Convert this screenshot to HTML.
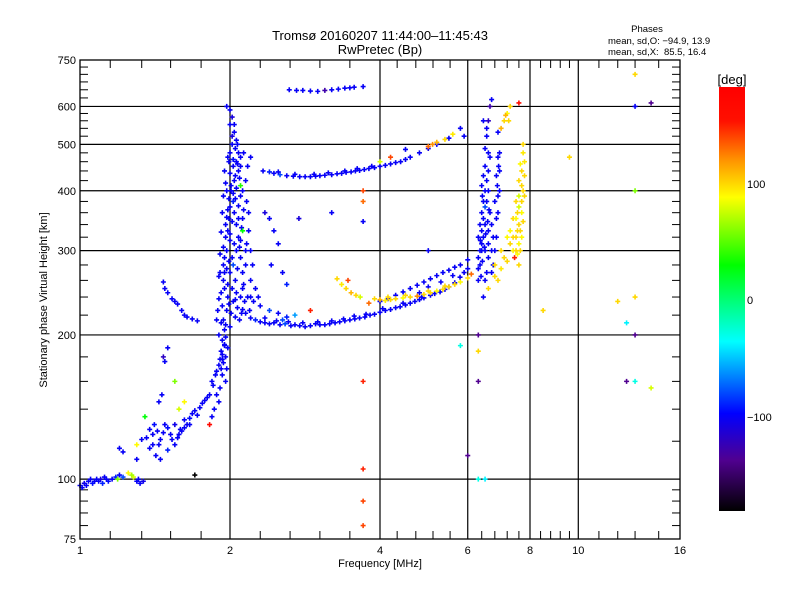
<!DOCTYPE html>
<html><head><meta charset="utf-8"><title>Ionogram</title>
<style>
html,body{margin:0;padding:0;background:#fff;}
svg{display:block;font-family:"Liberation Sans",sans-serif;}
</style></head>
<body>
<svg id="chart" width="800" height="600" viewBox="0 0 800 600" xmlns="http://www.w3.org/2000/svg">
<rect x="0" y="0" width="800" height="600" fill="#fff"/>
<text x="380" y="40" font-size="13" text-anchor="middle">Tromsø 20160207 11:44:00–11:45:43</text>
<text x="380" y="54" font-size="13" text-anchor="middle">RwPretec (Bp)</text>
<text x="647" y="32" font-size="9.5" text-anchor="middle">Phases</text>
<text x="608" y="44" font-size="9.5">mean, sd,O: −94.9, 13.9</text>
<text x="608" y="55" font-size="9.5" xml:space="preserve">mean, sd,X:  85.5, 16.4</text>
<g id="grid"></g>
<g id="ticks"></g>
<g id="marks"></g>
<rect x="80" y="60" width="600" height="479" fill="none" stroke="#000" stroke-width="1.3"/>
<g id="xlabels" font-size="11" text-anchor="middle"></g>
<g id="ylabels" font-size="11" text-anchor="end"></g>
<text x="380" y="567" font-size="11" text-anchor="middle">Frequency [MHz]</text>
<text transform="translate(47,300) rotate(-90)" font-size="11" text-anchor="middle">Stationary phase Virtual Height [km]</text>
<defs>
<linearGradient id="cb" x1="0" y1="0" x2="0" y2="1">
<stop offset="0" stop-color="#ff0000"/>
<stop offset="0.08" stop-color="#ff1000"/>
<stop offset="0.17" stop-color="#ff9000"/>
<stop offset="0.26" stop-color="#ffff00"/>
<stop offset="0.42" stop-color="#00ff00"/>
<stop offset="0.60" stop-color="#00ffff"/>
<stop offset="0.77" stop-color="#0000ff"/>
<stop offset="0.88" stop-color="#500090"/>
<stop offset="1" stop-color="#000000"/>
</linearGradient>
</defs>
<rect x="719" y="87" width="26" height="424" fill="url(#cb)"/>
<text x="732" y="84" font-size="13" text-anchor="middle">[deg]</text>
<text x="747" y="188" font-size="11">100</text>
<text x="747" y="304" font-size="11">0</text>
<text x="747" y="421" font-size="11">−100</text>
</svg>
<script>
// ---- axis data ----
const xMajorTicks = [1, 2, 4, 6, 8, 10, 16];
const xGridLines = [2, 4, 6, 8, 10];
const xMinorTicks = [1.15, 1.33, 1.52, 1.75, 2.3, 2.64, 3.03, 3.48, 4.33, 4.72, 5.11, 5.53, 6.4, 6.8, 7.2, 7.6, 8.4, 8.8, 9.2, 9.6, 11, 12, 13, 14.5];
const yMajorTicks = [75, 100, 200, 300, 400, 500, 600, 750];
const yGridLines = [100, 200, 300, 400, 500, 600];
const yMinorTicks = [80, 85, 90, 95, 120, 140, 160, 180, 220, 240, 260, 280, 320, 340, 360, 380, 420, 440, 460, 480, 520, 540, 560, 580, 625, 650, 675, 700, 725];

// ---- echo data: [frequency MHz, virtual height km, phase deg] ----
const traceLowE = [[1.0,97,-100],[1.02,98,-105],[1.04,99,-100],[1.06,98,-95],[1.08,100,-100],[1.1,100,-110],[1.12,101,-100],[1.14,99,-95],[1.16,100,-100],[1.18,101,-90],[1.2,102,-100],[1.22,101,-80],[1.25,103,90],[1.28,101,80],[1.3,99,-100],[1.32,98,-100],[1.34,99,-105],[1.03,97,-100],[1.07,99,-100],[1.11,98,-90],[1.19,100,60],[1.27,102,70],[1.01,96,-100],[1.05,100,-100],[1.09,99,-100],[1.13,100,-100],[1.31,100,-100]];
const traceEs = [[1.33,121,-100],[1.38,127,-100],[1.41,130,-95],[1.45,121,-100],[1.48,130,-100],[1.52,124,-100],[1.55,130,-105],[1.59,127,-100],[1.62,133,-100],[1.66,134,-95],[1.7,139,-100],[1.74,141,-100],[1.78,146,-100],[1.82,150,-100],[1.85,157,-100],[1.87,165,-100],[1.9,173,-100],[1.93,182,-100],[1.95,191,-100],[1.38,116,-100],[1.42,112,-100],[1.5,115,-90],[1.55,118,-100],[1.45,110,-100],[1.47,125,-100],[1.5,128,-95],[1.57,122,-100],[1.6,126,-100],[1.64,130,-100],[1.68,137,-100],[1.72,136,-100],[1.36,122,-100],[1.4,118,-100],[1.43,126,-100],[1.48,176,-100],[1.5,188,-100],[1.47,180,-120],[1.46,150,-100],[1.44,145,-100],[1.3,110,-100],[1.2,116,-100],[1.22,114,-100],[1.35,135,30],[1.3,118,90],[1.82,130,175],[1.7,102,-180],[1.58,140,80],[1.62,145,90],[1.55,160,60],[1.4,124,-100],[1.44,118,-100],[1.53,121,-100],[1.58,124,-100],[1.62,128,-100],[1.66,130,-100],[1.76,144,-100],[1.8,148,-100],[1.84,160,-100],[1.88,168,-100],[1.91,178,-100]];
const traceF1 = [[1.97,600,-100],[2.0,590,-100],[2.02,570,-110],[2.0,550,-100],[2.04,530,-100],[2.06,510,-100],[2.02,500,-100],[2.05,490,-100],[2.08,480,-100],[1.98,470,-100],[2.03,465,-95],[2.07,455,-100],[2.1,450,-100],[1.95,440,-100],[2.0,435,-100],[2.05,430,-100],[2.09,425,-100],[1.96,415,-100],[2.01,410,-100],[2.06,405,-100],[2.12,400,-100],[1.94,390,-100],[1.99,385,-100],[2.03,380,-90],[2.08,372,-100],[2.13,365,-100],[1.93,360,-100],[1.97,352,-100],[2.02,345,-100],[2.06,340,-100],[2.11,335,-100],[1.92,328,-100],[1.96,320,-100],[2.0,315,-100],[2.04,310,-100],[2.09,305,-100],[2.15,300,-100],[1.91,295,-100],[1.95,290,-100],[1.99,285,-100],[2.03,280,-80],[2.07,275,-100],[2.12,270,-100],[1.9,265,-100],[1.94,260,-100],[1.98,255,-100],[2.02,250,-100],[2.06,245,-100],[2.1,240,-100],[2.14,235,-100],[1.9,238,-100],[1.93,230,-100],[1.97,225,-100],[2.01,222,-100],[2.05,218,-100],[2.09,215,-100],[1.88,215,-100],[1.92,212,-100],[1.96,210,-100],[2.0,208,-100],[1.9,200,-100],[1.93,195,-100],[1.95,190,-100],[1.92,185,-100],[1.96,180,-100],[1.94,175,-100],[1.97,170,-100],[1.93,165,-100],[1.96,160,-100],[1.91,155,-100],[1.88,150,-100],[1.9,145,-100],[1.86,140,-100],[1.84,135,-100],[1.95,250,-100],[1.97,300,-100],[1.99,350,-100],[2.01,400,-100],[2.03,450,-100],[2.07,500,-100],[2.0,270,-100],[2.02,290,-100],[1.98,330,-100],[2.04,360,-100],[2.08,320,-100],[2.1,290,-100],[2.12,250,-100],[2.05,260,-100],[1.89,225,-100],[1.95,270,-100],[2.0,370,-100],[1.97,400,-100],[2.04,420,-100],[2.08,440,-100],[1.99,460,-100],[2.1,470,-100],[2.02,520,-110],[1.98,240,-100],[2.06,300,-100],[2.08,350,-100],[2.16,380,-100],[2.18,330,-100],[2.2,300,-100],[2.22,280,-100],[2.2,260,-100],[2.25,250,-100],[2.15,420,-100],[2.17,450,-100],[2.13,480,-100],[2.2,470,-100],[2.12,330,30],[2.1,410,40],[1.95,205,-100],[1.92,170,-100],[1.98,188,-100],[1.93,178,-100],[2.35,360,-110],[2.4,350,-100],[2.45,330,-100],[2.5,310,-100],[2.42,280,-100],[2.55,270,-100],[2.6,255,-90],[1.92,245,-100],[1.94,280,-100],[1.96,340,-100],[1.94,305,-100],[1.91,270,-100],[2.03,235,-100],[2.07,228,-100],[2.11,222,-100],[2.13,255,-100],[2.15,280,-100],[2.1,315,-100],[2.12,350,-100],[2.05,385,-100],[2.1,390,-100],[2.06,460,-100],[2.03,395,-100],[1.98,365,-100],[2.0,325,-100],[1.97,275,-100],[1.99,232,-100],[1.96,198,-100],[1.94,215,-100],[2.17,240,-100],[2.19,225,-100],[2.23,235,-100],[2.28,240,-100],[2.16,310,-100],[2.18,360,-100],[2.04,550,-100],[2.0,480,-100]];
const traceF2Lower = [[2.05,237,-100],[2.12,226,-100],[2.2,217,-100],[2.3,213,-100],[2.4,211,-100],[2.52,210,-100],[2.65,209,-100],[2.76,209,-100],[2.9,209,-100],[3.03,210,-100],[3.17,211,-100],[3.32,213,-100],[3.48,215,-100],[3.64,217,-100],[3.82,220,-100],[4.0,223,-100],[4.2,226,-100],[4.39,229,-100],[4.6,233,-100],[4.8,237,-100],[5.05,242,-100],[5.28,246,-100],[5.5,252,-100],[5.79,264,-100],[6.0,275,-100],[2.15,222,-100],[2.25,215,-90],[2.35,212,-100],[2.45,212,-100],[2.58,211,-80],[2.7,210,-100],[2.83,208,-100],[2.97,211,-100],[3.1,210,-100],[3.25,212,-100],[3.4,214,-100],[3.56,216,-100],[3.73,218,-100],[3.9,221,-100],[4.1,225,-100],[4.3,228,-100],[4.5,231,-100],[4.7,235,-100],[4.9,239,-100],[5.15,244,-100],[5.4,249,-100],[5.65,257,-100],[5.9,270,-100],[2.3,230,-100],[2.4,225,-80],[2.5,222,-100],[2.6,218,-90],[2.2,240,-100],[2.7,220,-60],[2.55,215,-80],[2.35,217,-100],[2.48,214,-100],[2.62,213,-100],[2.8,212,-100],[3.0,213,-100],[3.2,214,-100],[3.38,216,-100],[3.55,219,-100],[3.75,221,-100],[4.05,227,-100],[4.45,233,-100],[4.85,240,-100]];
const traceF2Upper = [[4.0,235,-100],[4.15,238,-100],[4.3,242,-100],[4.45,246,-100],[4.6,250,-100],[4.75,254,-100],[4.9,258,-100],[5.05,262,-100],[5.2,266,-100],[5.35,270,-100],[5.5,273,-100],[5.65,277,-100],[5.8,280,-100],[6.0,287,-100],[4.8,245,-100],[5.0,252,-100],[5.3,258,-100],[5.6,266,-100]];
const traceYellowLow = [[3.9,238,100],[4.0,237,110],[4.1,236,95],[4.2,237,100],[4.3,238,100],[4.45,239,90],[4.6,240,100],[4.75,241,120],[4.9,243,100],[5.05,245,100],[5.2,247,90],[5.35,249,100],[5.5,252,100],[5.65,255,100],[5.8,258,90],[6.0,263,100],[3.28,262,100],[3.35,255,95],[3.42,250,100],[3.5,245,110],[3.58,242,100],[3.65,240,80],[3.45,260,140],[3.8,233,130],[4.15,240,100],[4.5,242,100],[5.0,247,100],[5.4,253,100]];
const traceUpper = [[2.33,440,-100],[2.4,438,-90],[2.45,435,-100],[2.52,432,-80],[2.6,430,-100],[2.68,429,-100],[2.76,428,-100],[2.83,428,-100],[2.9,428,-100],[2.97,429,-100],[3.03,430,-100],[3.1,431,-100],[3.2,432,-100],[3.28,434,-100],[3.35,435,-100],[3.42,437,-100],[3.5,438,-100],[3.57,440,-100],[3.64,441,-100],[3.72,443,-100],[3.8,445,-100],[3.9,447,-100],[4.0,450,-100],[4.1,452,-100],[4.2,455,-100],[4.3,458,-100],[4.4,460,-100],[4.5,465,-100],[4.6,470,-100],[4.8,480,-100],[5.0,490,-110],[5.2,500,-100],[5.5,515,-100],[5.8,540,-100],[5.9,520,-100],[5.0,495,130],[5.1,500,120],[5.2,505,110],[5.4,512,100],[5.6,525,95],[4.5,488,-100],[4.2,470,140],[4.0,460,80],[2.5,438,-100],[2.7,433,-100],[2.95,433,-100],[3.15,436,-100],[3.4,440,-100],[3.6,445,-100],[3.85,450,-100]];
const traceTop = [[2.63,650,-100],[2.72,648,-100],[2.8,648,-100],[2.9,646,-100],[3.0,645,-100],[3.1,648,-130],[3.2,650,-100],[3.3,652,-100],[3.4,655,-100],[3.48,656,-100],[3.55,658,-100],[3.7,660,-100]];
const traceBranch = [[1.47,258,-100],[1.5,245,-100],[1.53,238,-100],[1.57,232,-100],[1.6,225,-100],[1.64,218,-100],[1.68,216,-100],[1.72,214,-100],[1.48,250,-100],[1.55,235,-100],[1.62,220,-100]];
const traceVertical = [[6.3,260,-100],[6.35,280,-100],[6.4,300,-100],[6.45,320,-100],[6.5,340,-100],[6.4,360,-100],[6.45,380,-100],[6.5,400,-100],[6.55,420,-100],[6.5,450,-100],[6.6,480,-100],[6.55,520,-100],[6.6,560,-120],[6.65,600,-130],[6.7,620,-100],[6.3,290,-100],[6.4,310,-100],[6.6,330,-100],[6.7,300,-100],[6.75,280,-100],[6.85,320,-100],[6.9,360,-100],[6.95,400,-100],[6.95,440,-100],[6.95,480,-100],[6.9,530,-100],[6.55,270,-100],[6.6,290,-100],[6.5,260,-100],[6.45,240,-100],[6.35,300,-100],[6.4,330,-100],[6.45,350,-100],[6.55,380,-100],[6.4,410,-100],[6.45,430,-100],[6.6,400,-100],[6.65,360,-100],[6.7,340,-100],[6.8,300,-100],[6.85,350,-100],[6.9,390,-100],[6.3,320,-100],[6.35,340,-100],[6.5,300,-100],[6.6,310,-100],[6.7,270,-100],[6.3,275,-100],[6.5,490,-100],[6.55,540,-100],[6.45,560,-100],[6.85,430,-100],[6.9,470,-100],[6.5,370,-80],[6.38,265,-100],[6.42,285,-100],[6.48,305,-100],[6.52,325,-100],[6.58,345,-100],[6.62,365,-100],[6.42,390,-100],[6.36,315,-100],[6.75,320,-100],[6.8,380,-100],[6.88,410,-100],[6.92,450,-100],[6.6,440,-100],[6.65,470,-100]];
const traceYellowHigh = [[6.6,250,100],[6.8,265,100],[7.0,275,95],[7.2,285,100],[7.4,300,90],[7.5,320,100],[7.6,340,100],[7.7,360,90],[7.7,380,100],[7.75,400,100],[7.8,430,100],[7.8,460,95],[7.75,500,100],[7.0,300,100],[7.2,320,90],[7.4,350,100],[7.5,380,100],[7.6,420,100],[7.1,560,100],[7.2,580,90],[7.3,600,100],[7.0,540,110],[7.6,610,170],[7.6,280,100],[7.3,330,90],[6.9,260,100],[7.1,290,100],[7.3,310,100],[7.5,300,100],[7.6,310,90],[7.65,330,100],[7.55,360,100],[7.7,440,100],[7.75,480,95],[7.6,390,80],[7.5,350,90],[7.4,320,100],[7.15,575,110],[7.25,560,100],[6.8,280,100],[7.45,290,150],[7.55,295,90],[7.65,300,100],[7.7,320,90],[7.75,345,100],[7.6,370,80],[7.7,410,100],[7.65,455,90],[7.8,390,100],[7.55,330,100]];
const scatterPoints = [[3.7,400,140],[3.7,380,130],[3.7,160,150],[3.7,105,150],[3.7,90,140],[3.7,80,140],[3.7,345,-100],[13,700,100],[13,600,-100],[14,610,-140],[13,400,60],[13,240,100],[12,235,100],[13,200,-140],[12.5,212,-40],[13,160,-30],[12.5,160,-140],[14,155,80],[9.6,470,100],[8.5,225,100],[6.3,100,-30],[6.5,100,-40],[6.0,112,-140],[6.3,200,-140],[6.3,185,100],[6.3,160,-140],[5.8,190,-30],[5.0,300,-100],[6.1,268,130],[2.9,225,150],[2.75,350,-110],[3.2,360,-100]];

const allTraces = [traceLowE, traceEs, traceF1, traceF2Lower, traceF2Upper, traceYellowLow, traceUpper, traceTop, traceBranch, traceVertical, traceYellowHigh, scatterPoints];

// ---- axis functions ----
const X0 = 80, PX_PER_OCT = 150;
const Y0 = 539, PX_PER_DEC = 479, HMIN = 75;
function xPos(f){ return X0 + PX_PER_OCT * Math.log2(f); }
function yPos(h){ return Y0 - PX_PER_DEC * Math.log10(h / HMIN); }
const stops = [[183,[255,0,0]],[150,[255,32,0]],[120,[255,144,0]],[89,[255,255,0]],[32,[0,255,0]],[-37,[0,255,255]],[-97,[0,0,255]],[-140,[80,0,144]],[-180,[0,0,0]]];
function phaseColor(p){
  if (p >= stops[0][0]) return 'rgb(255,0,0)';
  for (let i = 0; i < stops.length - 1; i++){
    const a = stops[i], b = stops[i+1];
    if (p <= a[0] && p >= b[0]){
      const t = (a[0] - p) / (a[0] - b[0]);
      const c = a[1].map((v, k) => Math.round(v + (b[1][k] - v) * t));
      return 'rgb(' + c.join(',') + ')';
    }
  }
  return 'rgb(0,0,0)';
}
const NS = 'http://www.w3.org/2000/svg';
function mk(tag, attrs, parent){
  const el = document.createElementNS(NS, tag);
  for (const k in attrs) el.setAttribute(k, attrs[k]);
  parent.appendChild(el);
  return el;
}
const grid = document.getElementById('grid');
const ticks = document.getElementById('ticks');
const marks = document.getElementById('marks');
const xl = document.getElementById('xlabels');
const yl = document.getElementById('ylabels');

xGridLines.forEach(f => {
  const x = xPos(f);
  const l = mk('line', {x1:x, x2:x, y1:60, y2:539, stroke:'#000', 'stroke-width':1.2}, grid);
  
  
});
yGridLines.forEach(h => {
  const y = yPos(h);
  const l = mk('line', {x1:80, x2:680, y1:y, y2:y, stroke:'#000', 'stroke-width':1.2}, grid);
  
  
});
xMinorTicks.forEach(f => {
  const x = xPos(f);
  const a = mk('line', {x1:x, x2:x, y1:60, y2:68, stroke:'#000', 'stroke-width':1}, ticks);
  
  
  const b = mk('line', {x1:x, x2:x, y1:531, y2:539, stroke:'#000', 'stroke-width':1}, ticks);
  
  
});
yMinorTicks.forEach(h => {
  const y = yPos(h);
  const a = mk('line', {x1:80, x2:88, y1:y, y2:y, stroke:'#000', 'stroke-width':1}, ticks);
  
  
  const b = mk('line', {x1:672, x2:680, y1:y, y2:y, stroke:'#000', 'stroke-width':1}, ticks);
  
  
});
xMajorTicks.forEach(f => {
  const t = mk('text', {x:xPos(f), y:554}, xl);
  t.textContent = String(f);
  
  
});
yMajorTicks.forEach(h => {
  const t = mk('text', {x:76, y:yPos(h) + 4}, yl);
  t.textContent = String(h);
  
  
});
allTraces.forEach(tr => {
  tr.forEach(pt => {
    const x = xPos(pt[0]), y = yPos(pt[1]);
    const d = 'M' + (x - 2.5) + ' ' + y + 'h5M' + x + ' ' + (y - 2.5) + 'v5';
    const p = mk('path', {d:d, stroke:phaseColor(pt[2]), 'stroke-width':1.6, fill:'none'}, marks);
    
    
  });
});
</script>
</body></html>
